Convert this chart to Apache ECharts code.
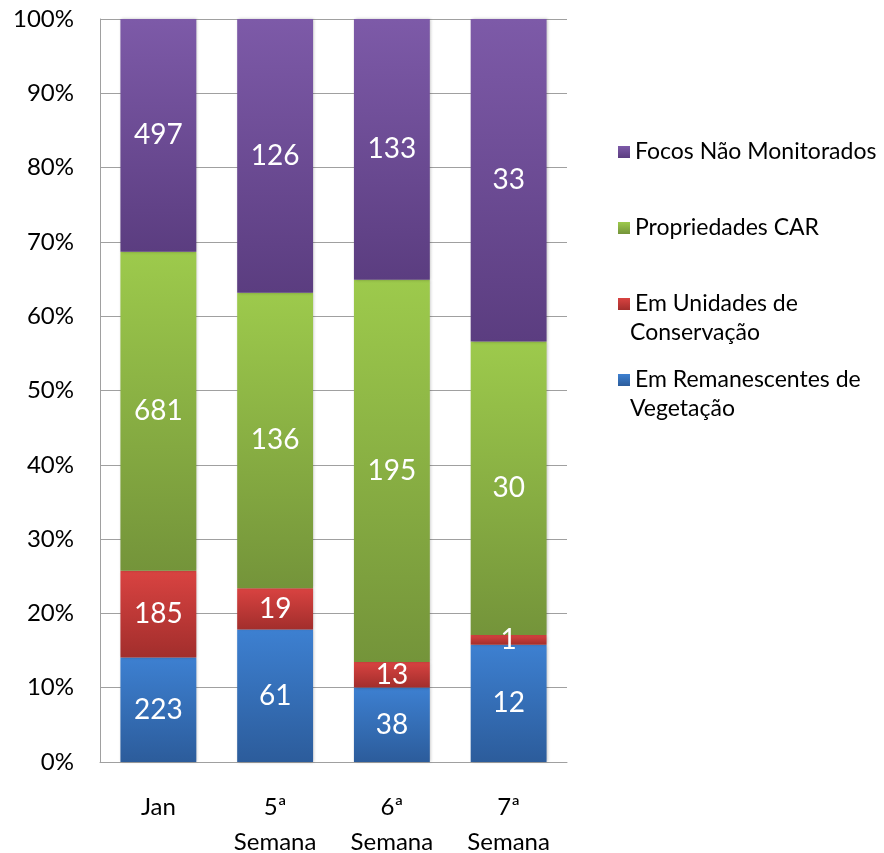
<!DOCTYPE html>
<html>
<head>
<meta charset="utf-8">
<script src="https://cdn.jsdelivr.net/npm/echarts@6/dist/echarts.min.js"></script>
<style>
  html, body { margin: 0; padding: 0; background: #fff; }
  #chart { width: 884px; height: 853px; }
</style>
</head>
<body>
<div id="chart"></div>
<script>
// categories and raw counts per series (bottom to top of the stack)
var categories = ['Jan', '5ª\nSemana', '6ª\nSemana', '7ª\nSemana'];
var remanescentes = [223, 61, 38, 12];
var unidades = [185, 19, 13, 1];
var propriedades = [681, 136, 195, 30];
var naoMonitorados = [497, 126, 133, 33];
var yTicks = [0, 10, 20, 30, 40, 50, 60, 70, 80, 90, 100];

var totals = categories.map(function (c, i) {
  return remanescentes[i] + unidades[i] + propriedades[i] + naoMonitorados[i];
});

function pct(arr) {
  return arr.map(function (v, i) { return v / totals[i] * 100; });
}

function grad(top, bottom) {
  return new echarts.graphic.LinearGradient(0, 0, 0, 1, [
    { offset: 0, color: top },
    { offset: 1, color: bottom }
  ]);
}

var font = 'Lato, "DejaVu Sans", sans-serif';

function makeSeries(name, raw, top, bottom) {
  return {
    name: name,
    type: 'bar',
    stack: 'total',
    barCategoryGap: '35%',
    data: pct(raw),
    itemStyle: {
      color: grad(top, bottom),
      shadowColor: 'rgba(0,0,0,0.25)',
      shadowBlur: 3,
      shadowOffsetX: 1
    },
    label: {
      show: true,
      position: 'inside',
      color: '#fff',
      fontFamily: font,
      fontSize: 28,
      formatter: function (p) { return raw[p.dataIndex]; }
    },
    emphasis: { disabled: true }
  };
}

var chart = echarts.init(document.getElementById('chart'));

var option = {
  backgroundColor: '#fff',
  animation: false,
  grid: { left: 100, right: 317, top: 19, bottom: 91, outerBoundsMode: 'none', containLabel: false },
  legend: {
    orient: 'vertical',
    left: 613,
    top: 131,
    itemWidth: 12,
    itemHeight: 12,
    itemGap: 44,
    icon: 'rect',
    selectedMode: false,
    data: ['Focos Não Monitorados', 'Propriedades CAR', 'Em Unidades de Conservação', 'Em Remanescentes de Vegetação'],
    formatter: function (name) {
      if (name === 'Em Unidades de Conservação') return 'Em Unidades de';
      if (name === 'Em Remanescentes de Vegetação') return 'Em Remanescentes de';
      return name;
    },
    textStyle: { fontFamily: font, fontSize: 23, color: '#000', lineHeight: 32 }
  },
  graphic: [
    { type: 'text', left: 630, top: 317, style: { text: 'Conservação', font: '23px ' + font, fill: '#000', lineHeight: 32 } },
    { type: 'text', left: 630, top: 393, style: { text: 'Vegetação', font: '23px ' + font, fill: '#000', lineHeight: 32 } }
  ],
  xAxis: {
    type: 'category',
    data: categories,
    axisTick: { show: false },
    axisLine: { lineStyle: { color: '#a0a0a0', width: 1 } },
    axisLabel: {
      color: '#000',
      fontFamily: font,
      fontSize: 24,
      lineHeight: 35,
      margin: 28
    }
  },
  yAxis: {
    type: 'value',
    min: 0,
    max: 100,
    interval: 10,
    axisLine: { show: true, lineStyle: { color: '#a0a0a0', width: 1 } },
    axisTick: { show: false },
    splitLine: { lineStyle: { color: '#a0a0a0', width: 1 } },
    axisLabel: {
      color: '#000',
      fontFamily: font,
      fontSize: 24,
      margin: 26,
      formatter: function (v) { return yTicks.indexOf(v) >= 0 ? v + '%' : ''; }
    }
  },
  series: [
    makeSeries('Em Remanescentes de Vegetação', remanescentes, '#3d80d1', '#2c5c9b'),
    makeSeries('Em Unidades de Conservação', unidades, '#d94341', '#a22e2c'),
    makeSeries('Propriedades CAR', propriedades, '#9dca4c', '#74943a'),
    makeSeries('Focos Não Monitorados', naoMonitorados, '#7d5aa8', '#5b3d80')
  ]
};

chart.setOption(option);
</script>
</body>
</html>
